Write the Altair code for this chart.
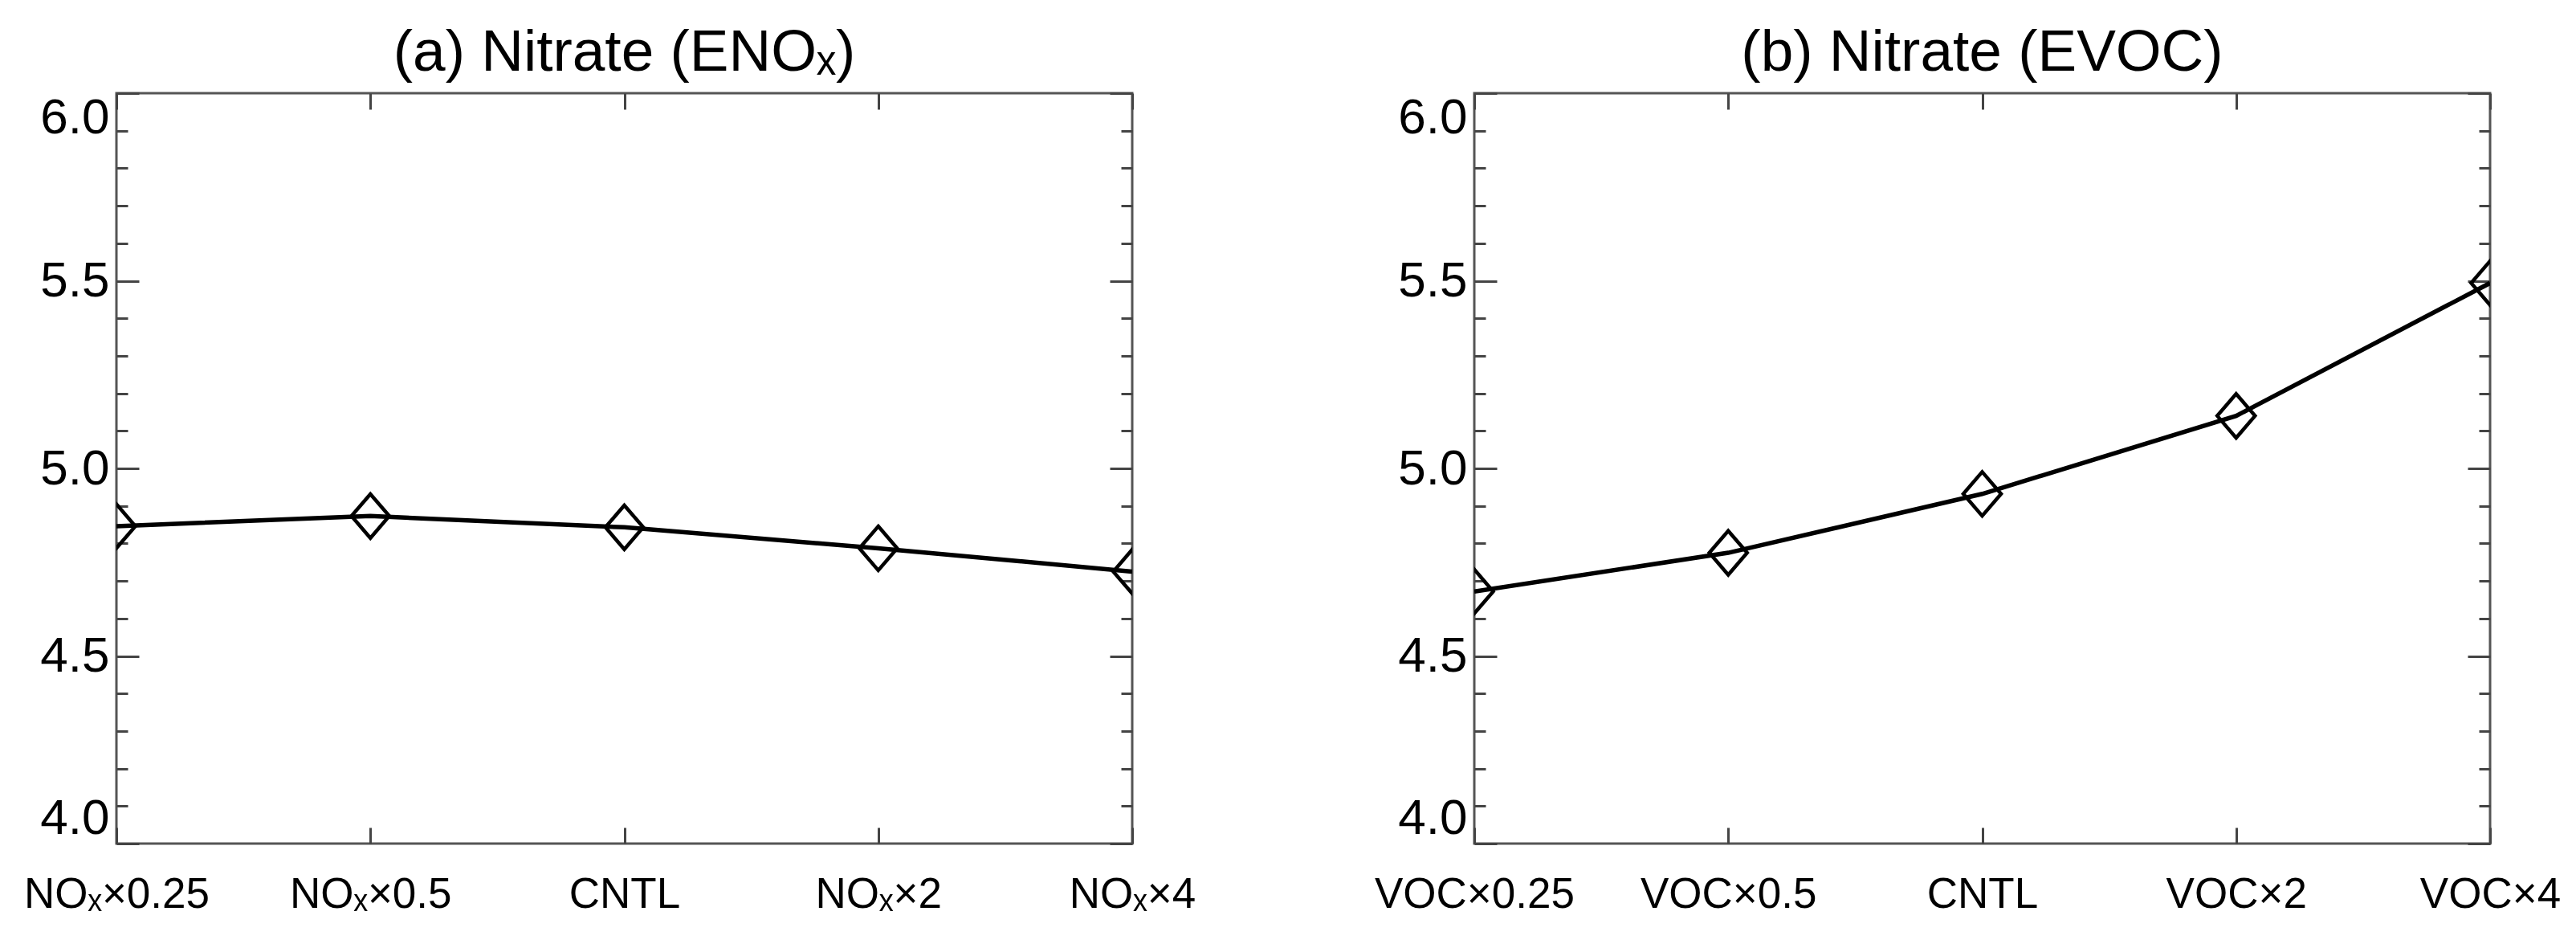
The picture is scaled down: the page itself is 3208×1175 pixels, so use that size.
import altair as alt
import pandas as pd

# ---- data ----
cats_a = ["NOₓ×0.25", "NOₓ×0.5", "CNTL", "NOₓ×2", "NOₓ×4"]
vals_a = [4.846, 4.873, 4.843, 4.787, 4.725]
cats_b = ["VOC×0.25", "VOC×0.5", "CNTL", "VOC×2", "VOC×4"]
vals_b = [4.672, 4.775, 4.932, 5.140, 5.494]
titles = ["(a) Nitrate (ENOₓ)", "(b) Nitrate (EVOC)"]
y_major = [4.0, 4.5, 5.0, 5.5, 6.0]
y_minor = [4.1, 4.2, 4.3, 4.4, 4.6, 4.7, 4.8, 4.9, 5.1, 5.2, 5.3, 5.4, 5.6, 5.7, 5.8, 5.9]
y_domain = [4.0, 6.0]

FONT = "Liberation Sans"
W, H = 1265, 934
DIAMOND = "M0,-1L0.86,0L0,1L-0.86,0Z"


def panel(cats, vals, title):
    df = pd.DataFrame({"cat": cats, "val": vals})
    xs = alt.Scale(type="point", padding=0, domain=cats)
    ys = alt.Scale(domain=y_domain, nice=False, zero=False)

    x_bottom = alt.Axis(orient="bottom", offset=-20, tickSize=20, labelPadding=37,
                        domain=False, grid=False, title=None, labelFontSize=53,
                        labelOverlap=False, labelAngle=0, labelLimit=0)
    x_top = alt.Axis(orient="top", offset=-20, tickSize=20, labels=False,
                     domain=False, grid=False, title=None)
    y_lmaj = alt.Axis(orient="left", offset=-28, tickSize=28, labelPadding=9,
                      values=y_major, format=".1f", domain=False, grid=False,
                      title=None, labelFontSize=62, labelLimit=0,
                      labelFlush=True, labelOverlap=False)
    y_lmin = alt.Axis(orient="left", offset=-14, tickSize=14, values=y_minor,
                      labels=False, domain=False, grid=False, title=None)
    y_rmaj = alt.Axis(orient="right", offset=-28, tickSize=28, values=y_major,
                      labels=False, domain=False, grid=False, title=None)
    y_rmin = alt.Axis(orient="right", offset=-14, tickSize=14, values=y_minor,
                      labels=False, domain=False, grid=False, title=None)

    base = alt.Chart(df)
    line = base.mark_line(color="black", strokeWidth=5.5, clip=True).encode(
        x=alt.X("cat:N", scale=xs, axis=x_bottom, sort=cats),
        y=alt.Y("val:Q", scale=ys, axis=y_lmaj),
    )
    pts = base.mark_point(shape=DIAMOND, size=3000, filled=False, color="black",
                          strokeWidth=4.5, opacity=1, clip=True).encode(
        x=alt.X("cat:N", scale=xs, axis=x_top, sort=cats),
        y=alt.Y("val:Q", scale=ys, axis=y_lmin),
    )
    g1 = base.mark_line(opacity=0).encode(
        x=alt.X("cat:N", scale=xs, axis=None, sort=cats),
        y=alt.Y("val:Q", scale=ys, axis=y_rmaj),
    )
    g2 = base.mark_line(opacity=0).encode(
        x=alt.X("cat:N", scale=xs, axis=None, sort=cats),
        y=alt.Y("val:Q", scale=ys, axis=y_rmin),
    )
    return alt.layer(line, pts, g1, g2).resolve_axis(
        x="independent", y="independent"
    ).properties(
        width=W, height=H,
        title=alt.TitleParams(title, font=FONT, fontSize=73, fontWeight="normal",
                              color="black", anchor="middle", offset=12),
    )


chart = alt.hconcat(
    panel(cats_a, vals_a, titles[0]),
    panel(cats_b, vals_b, titles[1]),
    spacing=426, bounds="flush",
).properties(
    padding={"left": 20, "top": 20, "right": 5, "bottom": 5},
    background="white",
).configure_view(
    stroke="#555", strokeWidth=3
).configure_axis(
    tickColor="#444", tickWidth=3, labelFont=FONT, labelColor="black"
)

chart.save("out.html", embed_options={"renderer": "svg", "actions": False})
